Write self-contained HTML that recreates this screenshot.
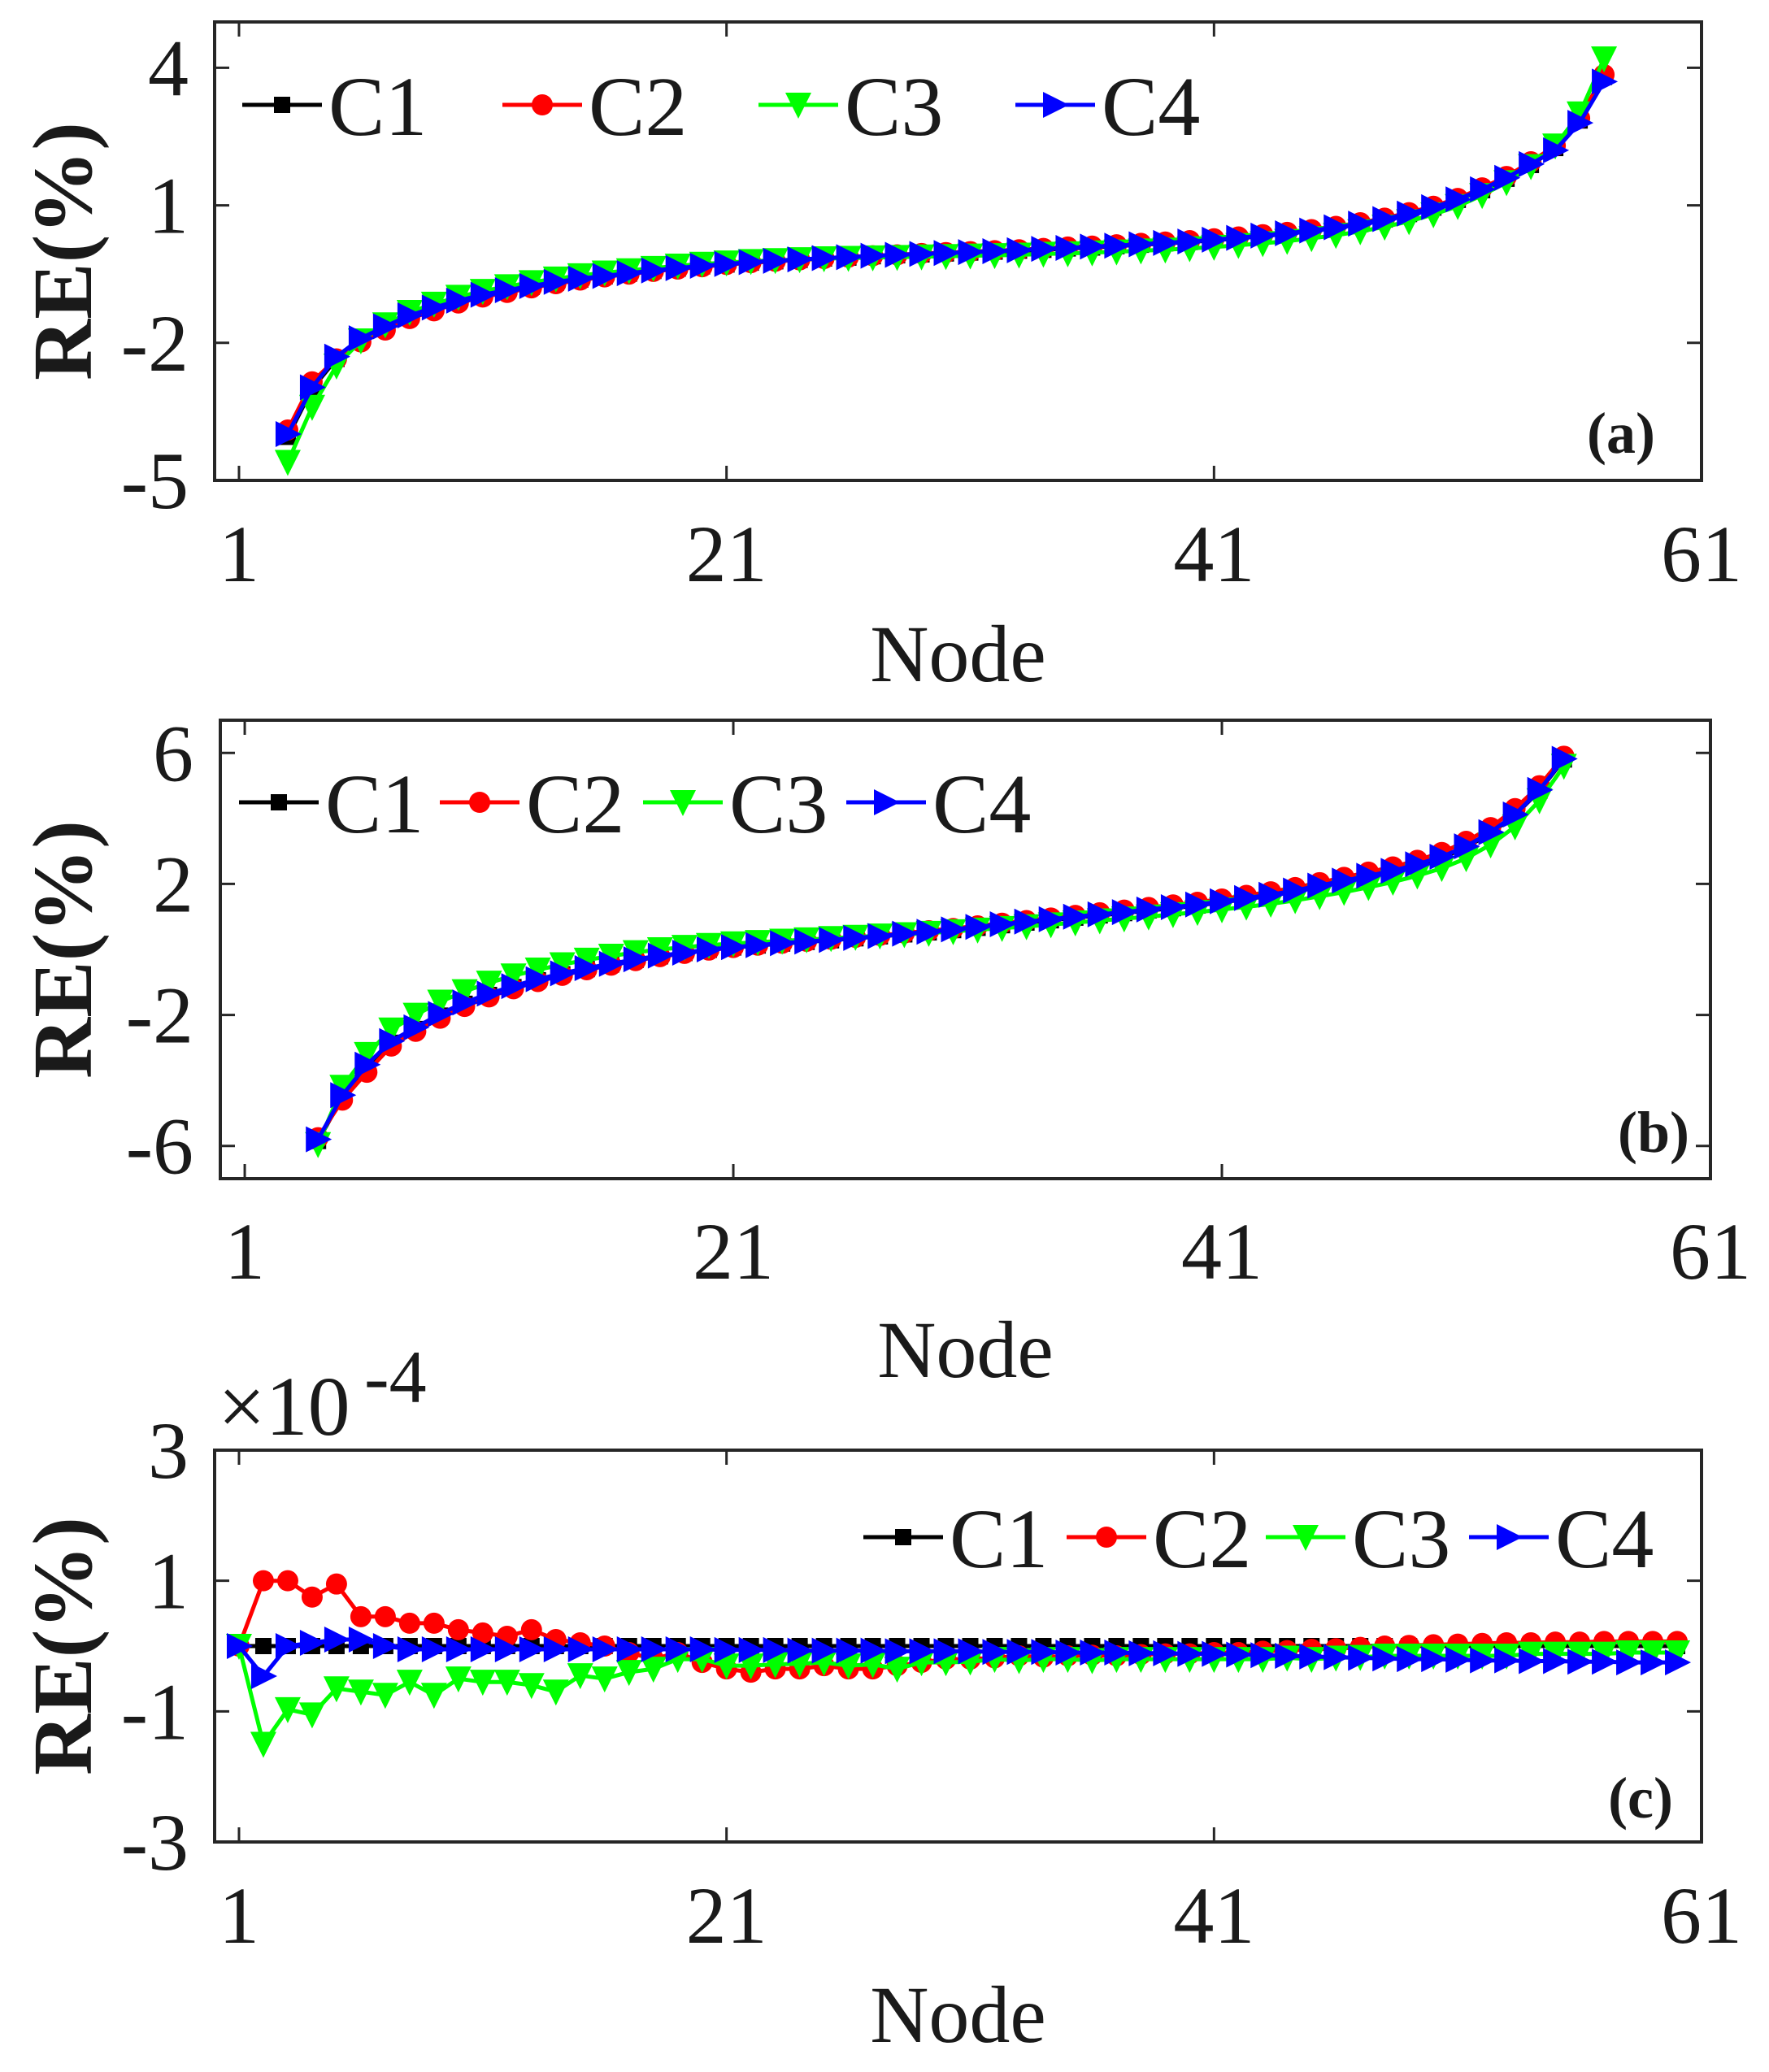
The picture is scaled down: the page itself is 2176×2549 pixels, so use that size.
<!DOCTYPE html>
<html><head><meta charset="utf-8">
<style>
html,body{margin:0;padding:0;background:#fff;}
svg{display:block;}
text{font-family:"Liberation Serif",serif;fill:#1a1a1a;}
</style></head>
<body>
<svg id="chart" xmlns="http://www.w3.org/2000/svg" width="2176" height="2549" viewBox="0 0 2176 2549"></svg>
<script>
// ---------- data ----------
const nodesA = [3,4,5,6,7,8,9,10,11,12,13,14,15,16,17,18,19,20,21,22,23,24,25,26,27,28,29,30,31,32,33,34,35,36,37,38,39,40,41,42,43,44,45,46,47,48,49,50,51,52,53,54,55,56,57];
const c4A = [-3.99,-2.97,-2.3,-1.9,-1.64,-1.4,-1.23,-1.08,-0.95,-0.85,-0.76,-0.67,-0.6,-0.54,-0.48,-0.42,-0.37,-0.32,-0.28,-0.24,-0.21,-0.18,-0.15,-0.13,-0.1,-0.08,-0.06,-0.04,-0.02,0,0.02,0.05,0.07,0.1,0.12,0.15,0.18,0.21,0.25,0.29,0.34,0.39,0.45,0.52,0.6,0.7,0.82,0.96,1.13,1.35,1.6,1.9,2.2,2.8,3.7];
const c1A = [-4.05,-3.0,-2.35,-1.95,-1.68,-1.43,-1.26,-1.1,-0.97,-0.87,-0.78,-0.69,-0.62,-0.55,-0.49,-0.43,-0.38,-0.33,-0.29,-0.25,-0.22,-0.19,-0.16,-0.14,-0.11,-0.09,-0.07,-0.05,-0.03,-0.01,0.01,0.03,0.06,0.08,0.11,0.14,0.17,0.2,0.24,0.28,0.33,0.38,0.44,0.51,0.59,0.69,0.81,0.95,1.12,1.33,1.58,1.88,2.25,2.85,3.8];
const c2A = [-3.9,-2.85,-2.35,-1.98,-1.72,-1.47,-1.3,-1.13,-1.0,-0.9,-0.8,-0.71,-0.63,-0.56,-0.5,-0.44,-0.39,-0.34,-0.29,-0.25,-0.22,-0.19,-0.16,-0.13,-0.1,-0.08,-0.05,-0.03,-0.01,0.01,0.03,0.06,0.09,0.11,0.14,0.17,0.2,0.23,0.27,0.31,0.36,0.41,0.47,0.54,0.62,0.72,0.84,0.98,1.15,1.38,1.63,1.95,2.3,2.9,3.85];
const c3A = [-4.6,-3.4,-2.5,-1.95,-1.6,-1.33,-1.15,-1.0,-0.87,-0.77,-0.68,-0.6,-0.53,-0.47,-0.42,-0.37,-0.32,-0.28,-0.25,-0.22,-0.2,-0.18,-0.16,-0.15,-0.14,-0.13,-0.12,-0.11,-0.1,-0.09,-0.08,-0.06,-0.05,-0.03,-0.01,0.01,0.03,0.06,0.09,0.13,0.17,0.22,0.28,0.35,0.43,0.53,0.65,0.8,0.98,1.22,1.5,1.85,2.3,3.0,4.2];

const nodesB = [4,5,6,7,8,9,10,11,12,13,14,15,16,17,18,19,20,21,22,23,24,25,26,27,28,29,30,31,32,33,34,35,36,37,38,39,40,41,42,43,44,45,46,47,48,49,50,51,52,53,54,55];
const c4B = [-5.8,-4.45,-3.52,-2.8,-2.38,-1.97,-1.62,-1.35,-1.12,-0.91,-0.73,-0.57,-0.44,-0.3,-0.19,-0.1,0,0.07,0.13,0.19,0.24,0.29,0.35,0.41,0.48,0.54,0.61,0.69,0.77,0.85,0.92,1.0,1.07,1.14,1.22,1.29,1.37,1.47,1.57,1.67,1.8,1.95,2.1,2.25,2.4,2.6,2.83,3.15,3.58,4.12,4.87,5.82];
const c1B = [-5.85,-4.5,-3.6,-2.85,-2.43,-2.02,-1.66,-1.39,-1.15,-0.94,-0.76,-0.6,-0.46,-0.32,-0.21,-0.11,-0.01,0.06,0.12,0.18,0.23,0.28,0.34,0.4,0.46,0.52,0.59,0.66,0.74,0.82,0.89,0.97,1.04,1.11,1.19,1.26,1.34,1.44,1.54,1.64,1.77,1.92,2.07,2.22,2.38,2.58,2.8,3.12,3.55,4.1,4.85,5.8];
const c2B = [-5.75,-4.6,-3.75,-2.95,-2.5,-2.1,-1.74,-1.45,-1.2,-0.98,-0.79,-0.62,-0.48,-0.34,-0.22,-0.12,-0.02,0.06,0.13,0.19,0.25,0.31,0.37,0.43,0.5,0.57,0.64,0.72,0.8,0.88,0.96,1.04,1.12,1.2,1.28,1.36,1.44,1.54,1.65,1.76,1.89,2.04,2.2,2.36,2.52,2.72,2.96,3.3,3.72,4.3,5.0,5.9];
const c3B = [-5.95,-4.2,-3.2,-2.45,-2.0,-1.6,-1.28,-1.02,-0.8,-0.62,-0.46,-0.32,-0.2,-0.09,0.0,0.07,0.13,0.18,0.22,0.26,0.3,0.34,0.38,0.42,0.46,0.5,0.55,0.6,0.65,0.7,0.76,0.82,0.88,0.94,1.0,1.07,1.14,1.22,1.3,1.39,1.5,1.62,1.75,1.9,2.06,2.25,2.48,2.78,3.2,3.75,4.55,5.6];

const nodesC = [1,2,3,4,5,6,7,8,9,10,11,12,13,14,15,16,17,18,19,20,21,22,23,24,25,26,27,28,29,30,31,32,33,34,35,36,37,38,39,40,41,42,43,44,45,46,47,48,49,50,51,52,53,54,55,56,57,58,59,60];
const c1C = [0,0,0,0,0,0,0,0,0,0,0,0,0,0,0,0,0,0,0,0,0,0,0,0,0,0,0,0,0,0,0,0,0,0,0,0,0,0,0,0,0,0,0,0,0,0,0,0,0,0,0,0,0,0,0,0,0,0,0,0];
const c2C = [0,1.0,1.0,0.75,0.95,0.45,0.45,0.35,0.35,0.25,0.2,0.15,0.25,0.1,0.05,0.0,-0.1,-0.2,-0.1,-0.25,-0.35,-0.4,-0.35,-0.35,-0.3,-0.35,-0.35,-0.3,-0.25,-0.2,-0.2,-0.18,-0.15,-0.17,-0.15,-0.14,-0.15,-0.13,-0.12,-0.12,-0.1,-0.1,-0.08,-0.07,-0.05,-0.04,-0.02,0,0.01,0.02,0.03,0.04,0.05,0.05,0.06,0.06,0.07,0.07,0.07,0.07];
const c3C = [0,-1.5,-0.97,-1.05,-0.65,-0.7,-0.75,-0.55,-0.75,-0.5,-0.55,-0.55,-0.6,-0.7,-0.45,-0.5,-0.4,-0.35,-0.2,-0.2,-0.3,-0.3,-0.28,-0.27,-0.25,-0.3,-0.28,-0.35,-0.25,-0.25,-0.24,-0.2,-0.22,-0.2,-0.2,-0.22,-0.2,-0.2,-0.2,-0.2,-0.2,-0.2,-0.2,-0.18,-0.2,-0.18,-0.17,-0.15,-0.15,-0.15,-0.15,-0.15,-0.15,-0.12,-0.12,-0.12,-0.12,-0.1,-0.1,-0.1];
const c4C = [0,-0.46,0,0.05,0.1,0.1,0,-0.05,-0.05,-0.05,-0.05,-0.05,-0.05,-0.05,-0.05,-0.05,-0.05,-0.05,-0.05,-0.05,-0.06,-0.06,-0.06,-0.07,-0.07,-0.07,-0.07,-0.08,-0.08,-0.08,-0.08,-0.09,-0.09,-0.09,-0.1,-0.1,-0.1,-0.11,-0.11,-0.12,-0.12,-0.13,-0.14,-0.15,-0.16,-0.17,-0.18,-0.19,-0.2,-0.2,-0.21,-0.22,-0.22,-0.23,-0.23,-0.24,-0.24,-0.25,-0.25,-0.25];

const xTicks = [1,21,41,61];
const yTicksA = [4,1,-2,-5];
const yTicksB = [6,2,-2,-6];
const yTicksC = [3,1,-1,-3];
const seriesNames = ['C1','C2','C3','C4'];

// ---------- drawing ----------
const NS = 'http://www.w3.org/2000/svg';
const svg = document.getElementById('chart');
function mk(tag, attrs, parent){
  const e = document.createElementNS(NS, tag);
  for (const k in attrs) e.setAttribute(k, attrs[k]);
  (parent||svg).appendChild(e);
  return e;
}
const colors = ['#000000','#ff0000','#00ff00','#0000ff'];
const markers = ['square','circle','down','right'];

function marker(g, type, x, y, color){
  let e;
  if (type==='square') e = mk('rect',{x:x-10,y:y-10,width:20,height:20,fill:color},g);
  else if (type==='circle') e = mk('circle',{cx:x,cy:y,r:13,fill:color},g);
  else if (type==='down') e = mk('polygon',{points:`${x-16},${y-15} ${x+16},${y-15} ${x},${y+17}`,fill:color},g);
  else e = mk('polygon',{points:`${x-15},${y-16} ${x-15},${y+16} ${x+17},${y}`,fill:color},g);
  return e;
}

function panel(cfg){
  const g = mk('g',{});
  
  
  const xs = v => cfg.L + (v - cfg.xmin)/(cfg.xmax - cfg.xmin)*(cfg.R - cfg.L);
  const ys = v => cfg.B - (v - cfg.ymin)/(cfg.ymax - cfg.ymin)*(cfg.B - cfg.T);
  cfg.series.forEach((vals, si) => {
    const sg = mk('g',{},g);
    
    
    const pts = vals.map((v,i)=> xs(cfg.nodes[i]).toFixed(1)+','+ys(v).toFixed(1)).join(' ');
    const pl = mk('polyline',{points:pts,fill:'none',stroke:colors[si],'stroke-width':5,'stroke-linejoin':'round'},sg);
    
    
    vals.forEach((v,i)=>{
      const m = marker(sg, markers[si], xs(cfg.nodes[i]), ys(v), colors[si]);
      
      
    });
  });
  const fr = mk('rect',{x:cfg.L,y:cfg.T,width:cfg.R-cfg.L,height:cfg.B-cfg.T,fill:'none',stroke:'#262626','stroke-width':4},g);
  
  
  xTicks.forEach(t=>{
    const x = xs(t);
    mk('line',{x1:x,y1:cfg.B,x2:x,y2:cfg.B-18,stroke:'#262626','stroke-width':3},g);
    mk('line',{x1:x,y1:cfg.T,x2:x,y2:cfg.T+18,stroke:'#262626','stroke-width':3},g);
    const tx = mk('text',{x:x,y:cfg.xlabY,'font-size':100,'text-anchor':'middle'},g);
    tx.textContent = t;
    
    
  });
  cfg.yTicks.forEach(t=>{
    const y = ys(t);
    mk('line',{x1:cfg.L,y1:y,x2:cfg.L+18,y2:y,stroke:'#262626','stroke-width':3},g);
    mk('line',{x1:cfg.R,y1:y,x2:cfg.R-18,y2:y,stroke:'#262626','stroke-width':3},g);
    const ty = mk('text',{x:cfg.ylabX,y:y+34,'font-size':100,'text-anchor':'end'},g);
    ty.textContent = t;
    
    
  });
  const xt = mk('text',{x:(cfg.L+cfg.R)/2,y:cfg.nodeY,'font-size':100,'text-anchor':'middle'},g);
  xt.textContent = 'Node';
  
  
  const ycy = (cfg.T+cfg.B)/2;
  const yt = mk('text',{x:0,y:0,'font-size':104,'font-weight':'bold','text-anchor':'middle',transform:`translate(112,${ycy}) rotate(-90)`},g);
  yt.textContent = 'RE(%)';
  
  
  const pl = mk('text',{x:cfg.tagX,y:cfg.tagY,'font-size':72,'font-weight':'bold','text-anchor':'end'},g);
  pl.textContent = cfg.tag;
  
  
  const lg = mk('g',{},g);
  
  
  cfg.legend.forEach((lx,si)=>{
    const eg = mk('g',{},lg);
    
    
    mk('line',{x1:lx,y1:cfg.legY,x2:lx+98,y2:cfg.legY,stroke:colors[si],'stroke-width':5},eg);
    marker(eg, markers[si], lx+49, cfg.legY, colors[si]);
    const t = mk('text',{x:lx+106,y:cfg.legY+37,'font-size':104},eg);
    t.textContent = seriesNames[si];
  });
}

panel({name:'panel-a',L:264,R:2093,T:27,B:591,xmin:0,xmax:61,ymin:-5,ymax:5,
  nodes:nodesA,series:[c1A,c2A,c3A,c4A],yTicks:yTicksA,xlabY:715,nodeY:838,ylabX:232,
  tag:'(a)',tagX:2036,tagY:557,legY:129,legend:[298,618,933,1249]});
panel({name:'panel-b',L:271,R:2104,T:886,B:1450,xmin:0,xmax:61,ymin:-7,ymax:7,
  nodes:nodesB,series:[c1B,c2B,c3B,c4B],yTicks:yTicksB,xlabY:1573,nodeY:1694,ylabX:238,
  tag:'(b)',tagX:2078,tagY:1417,legY:987,legend:[294,541,791,1041]});
panel({name:'panel-c',L:264,R:2093,T:1784,B:2266,xmin:0,xmax:61,ymin:-3,ymax:3,
  nodes:nodesC,series:[c1C,c2C,c3C,c4C],yTicks:yTicksC,xlabY:2390,nodeY:2512,ylabX:232,
  tag:'(c)',tagX:2058,tagY:2236,legY:1891,legend:[1062,1312,1557,1807]});

const ex = mk('text',{x:268,y:1765,'font-size':104});


ex.textContent = '×10';
const ex2 = mk('text',{x:448,y:1725,'font-size':92});


ex2.textContent = '-4';
</script>
</body></html>
